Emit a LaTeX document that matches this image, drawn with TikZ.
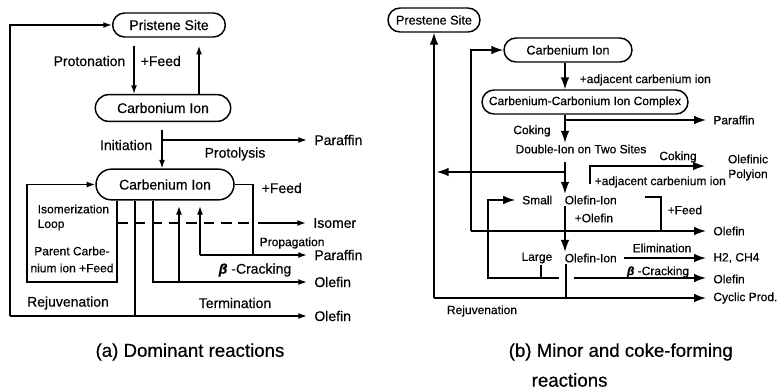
\documentclass[tikz,border=0pt]{standalone}
\usepackage{fontspec}
\setmainfont{Liberation Sans}[FakeBold=0.4]
\usetikzlibrary{arrows.meta,shapes.misc}

\begin{document}
\begin{tikzpicture}[x=0.75pt,y=0.75pt,yscale=-1,line width=1.1pt,
  site/.style={draw,rounded rectangle,inner sep=0.5pt},
  lbl/.style={inner sep=0.75pt,font=\fontsize{10.5}{12}\selectfont},
  lblR/.style={inner sep=0.75pt,font=\fontsize{9}{11}\selectfont},
  small/.style={inner sep=0.75pt,font=\fontsize{9}{10}\selectfont},
  captxt/.style={inner sep=0.75pt,font=\fontsize{14}{16}\selectfont},
  outL/.style={lbl,anchor=west,inner xsep=5pt},
  outR/.style={lblR,anchor=west,inner xsep=5pt},
  arrL/.style={-{Latex[length=6.5pt,width=4.5pt]}},
  arrR/.style={-{Latex[length=9pt,width=6.5pt]}}]
\useasboundingbox (0,0) rectangle (783,390);

%%%%% (a) dominant reactions
% Shapes
\node[site,lbl,minimum width=86pt,minimum height=18pt] (pristene) at (169,25) {Pristene Site};
\node[site,lbl,minimum width=103pt,minimum height=20pt] (carbonium) at (163,108) {Carbonium Ion};
\node[site,lbl,minimum width=105pt,minimum height=23pt] (carbenium) at (165,184.5) {Carbenium Ion};

% Text Node
\node[lbl,anchor=east] (protonation) at (127,61) {Protonation};
\node[lbl,anchor=west] (feedA) at (139,61) {+Feed};
\node[lbl,anchor=east] (initiation) at (154,145) {Initiation};
\node[lbl] (protolysis) at (235,154) {Protolysis};
\node[lbl,anchor=west] (feedB) at (260,188) {+Feed};
\node[small,anchor=west] (isomtxt) at (36,209) {Isomerization};
\node[small,anchor=west] (looptxt) at (36,225) {Loop};
\node[small] (parent) at (72,251) {Parent Carbe-};
\node[small] (parentb) at (72,268) {nium ion +Feed};
\node[small,anchor=west] (propagation) at (258,243) {Propagation};
\node[lbl] (betacrack) at (255,270) {\textbf{\textit{β}} -Cracking};
\node[lbl] (rejuvA) at (68,303) {Rejuvenation};
\node[lbl] (termination) at (235,303) {Termination};
\node[outL] (paraffinA) at (307,140) {Paraffin};
\node[outL] (isomer) at (306,223) {Isomer};
\node[outL] (paraffinB) at (307,255) {Paraffin};
\node[outL] (olefinA) at (307,282) {Olefin};
\node[outL] (olefinB) at (307,316) {Olefin};

% Coordinates
\coordinate (proto) at (162,140);
\coordinate (rejuv) at (10,316);
\coordinate (term) at (135,316);
\coordinate (isoBL) at (27,282);
\coordinate (prop) at (200,255);
\coordinate (feedC) at (253,255);
\coordinate (beta) at (179,282);

%Straight Lines
\draw[arrL,shorten <=6pt] (pristene.south -| 134,0) -- (carbonium.north -| 134,0);
\draw[arrL,shorten >=6pt] (carbonium.north -| 199,0) -- (pristene.south -| 199,0);
\draw[arrL,shorten <=6pt] (carbonium.south -| proto) -- (carbenium.north -| proto);
\draw[arrL] (proto) -- (paraffinA.west);
% isomerization loop
\draw[arrL] (carbenium.south -| 117,0) |- (isoBL) |- (carbenium.west);
\draw[dash pattern=on 8pt off 5pt] (117,223) -- (250,223);
\draw[arrL] (258,223) -- (isomer.west);
% rejuvenation and termination
\draw[arrL] (rejuv) |- (pristene.west);
\draw[arrL] (rejuv) -- (olefinB.west);
\draw (carbenium.south -| term) -- (term);
% beta-cracking
\draw[arrL] (carbenium.south -| 153,0) |- (olefinA.west);
\draw[arrL,shorten >=4pt] (beta) -- (carbenium.south -| beta);
% propagation
\draw (carbenium.east) -| (feedC);
\draw[arrL] (prop) -- (paraffinB.west);
\draw[arrL,shorten >=4pt] (prop) -- (carbenium.south -| prop);

%%%%% (b) minor and coke-forming reactions
% Shapes
\node[site,lblR,font=\fontsize{9.5}{11}\selectfont,minimum width=70.5pt,minimum height=18pt] (prestene) at (434,20) {Prestene Site};
\node[site,lblR,font=\fontsize{9.5}{11}\selectfont,minimum width=97.5pt,minimum height=18pt] (carbR) at (568,50) {Carbenium Ion};
\node[site,lblR,minimum width=156pt,minimum height=18pt] (complex) at (585,102) {Carbenium-Carbonium Ion Complex};

% Text Node
\node[lblR,anchor=west] (adjA) at (578,80) {+adjacent carbenium ion};
\node[lblR] (cokingA) at (532,131) {Coking};
\node[lblR] (dbl) at (581,149) {Double-Ion on Two Sites};
\node[lblR] (cokingB) at (678,157) {Coking};
\node[lblR,anchor=west] (adjB) at (593,182) {+adjacent carbenium ion};
\node[lblR] (olefinic) at (748,159) {Olefinic};
\node[lblR] (polyion) at (748,175) {Polyion};
\node[lblR,anchor=east] (smallL) at (554,200) {Small};
\node[lblR,anchor=west] (smallO) at (563,200) {Olefin-Ion};
\node[lblR,anchor=west] (feedR) at (666,210) {+Feed};
\node[lblR,anchor=west] (plusOl) at (573,218) {+Olefin};
\node[lblR,anchor=east] (largeL) at (554,258) {Large};
\node[lblR,anchor=west] (largeO) at (563,258) {Olefin-Ion};
\node[lblR] (elim) at (662,248) {Elimination};
\node[lblR] (betaR) at (658,272) {\textbf{\textit{β}} -Cracking};
\node[lblR] (rejuvB) at (482,311) {Rejuvenation};
\node[outR] (paraffinR) at (706,120) {Paraffin};
\node[outR] (olefinR) at (706,231) {Olefin};
\node[outR] (gasR) at (706,258) {H2, CH4};
\node[outR] (olefinRb) at (706,279) {Olefin};
\node[outR] (cyclic) at (706,298) {Cyclic Prod.};

% Coordinates
\coordinate (cycR) at (434,298);
\coordinate (olR) at (471,231);
\coordinate (parR) at (565,120);
\coordinate (dblA) at (565,172);
\coordinate (cokeA) at (590,184);
\coordinate (cokeB) at (705,166);
\coordinate (loopR) at (488,278);
\coordinate (largeB) at (559,278);
\coordinate (feedRb) at (661,231);
\coordinate (betaS) at (574,278);

%Straight Lines
\draw[arrR] (cycR) -- (prestene.south -| cycR);
\draw[arrR] (cycR) -- (cyclic.west);
\draw[arrR] (olR) |- (carbR.west);
\draw[arrR] (olR) -- (olefinR.west);
\draw[arrR] (carbR.south -| parR) -- (complex.north -| parR);
\draw[arrR] (complex.south -| parR) -- (dbl.north -| parR);
\draw[arrR] (parR) -- (paraffinR.west);
\draw[arrR,shorten <=5pt] (dbl.south -| parR) -- (smallO.north -| parR);
\draw[arrR,shorten >=2pt] (dblA) -- (cycR |- dblA);
\draw[arrR] (cokeA) |- (cokeB);
\draw[arrR,shorten >=4pt] (largeB) -- (loopR) |- (smallL.west);
\draw (largeL.south -| 541,0) -- (largeB -| 541,0);
\draw (645,197) -| (feedRb);
\draw[arrR] (smallO.south -| parR) -- (largeO.north -| parR);
\draw[arrR,shorten <=4pt] (largeO.east) -- (gasR.west);
\draw (largeO.south -| 566,0) -- (cycR -| 566,0);
\draw[arrR] (betaS) -- (betaS -| olefinRb.west);

% Captions
\node[captxt] (capA) at (190,352) {(a) Dominant reactions};
\node[captxt,anchor=west] (capB) at (507,352) {(b) Minor and coke-forming};
\node[captxt,anchor=west] (capBb) at (530,380) {reactions};
\end{tikzpicture}
\end{document}
